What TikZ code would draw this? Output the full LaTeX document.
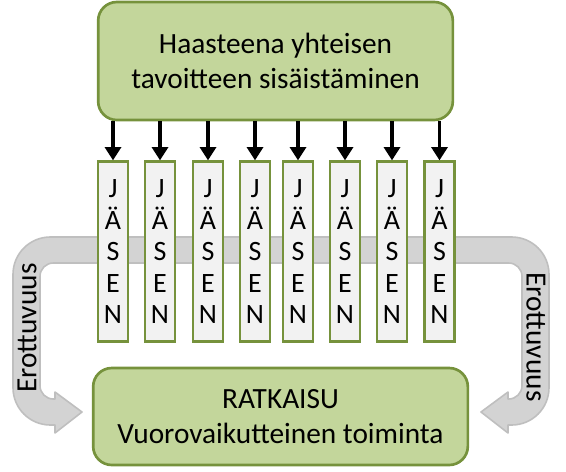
\documentclass[tikz,border=0pt]{standalone}
\usepackage{fontspec}
\setmainfont{Carlito}
\usepackage{tikz}
\usetikzlibrary{calc,positioning,arrows.meta,shapes}
\tikzset{>={Triangle[width=12pt,length=10pt]}}
\definecolor{boxgreen}{HTML}{C3D69B}
\definecolor{linegreen}{HTML}{76923C}
\definecolor{memgray}{HTML}{F2F2F2}
\definecolor{bandgray}{HTML}{D3D3D3}
\definecolor{bandline}{HTML}{BFBFBF}

\begin{document}
\begin{tikzpicture}[x=0.75pt,y=-0.75pt,
  bigbox/.style={draw=linegreen,fill=boxgreen,line width=2pt,rounded corners=14pt,align=center,font=\fontsize{22}{26.25}\selectfont},
  mem/.style={draw=linegreen,fill=memgray,line width=2pt,minimum width=22.5pt,minimum height=135pt,inner sep=0pt,align=center,font=\fontsize{21}{23.7}\selectfont},
  band/.style={draw=bandline,fill=bandgray,line width=1.2pt,line join=round}]
              \useasboundingbox (0,0) rectangle (566,471);

              % harmaa nuoli taustalle
              \draw[band] (55,425) [rounded corners=28pt] -- (13,425) -- (13,237) -- (549,237) -- (549,425) [sharp corners] -- (508,425)
                    -- (508,433) -- (481,412) -- (508,392) -- (508,399) [rounded corners=10pt] -- (522,399) -- (522,263)
                    -- (40,263) -- (40,399) [sharp corners] -- (55,399) -- (55,392) -- (82,412) -- (55,433) -- cycle;
              \node[rotate=90,font=\fontsize{22}{26}\selectfont] (ero1) at (27,328) {Erottuvuus};
              \node[rotate=-90,font=\fontsize{22}{26}\selectfont] (ero2) at (536,337) {Erottuvuus};

              \node[bigbox,minimum width=266pt,minimum height=88.5pt] (goal) at (275.5,61) {Haasteena yhteisen\\tavoitteen sisäistäminen};
              \node[bigbox,minimum width=281pt,minimum height=72.75pt] (sol) at (280.5,416.5) {RATKAISU\\Vuorovaikutteinen toiminta};

              \node[mem] (m1) at (113,251.7) {J\\Ä\\S\\E\\N};
              \node[mem] (m2) at (160,251.7) {J\\Ä\\S\\E\\N};
              \node[mem] (m3) at (208,251.7) {J\\Ä\\S\\E\\N};
              \node[mem] (m4) at (255,251.7) {J\\Ä\\S\\E\\N};
              \node[mem] (m5) at (298,251.7) {J\\Ä\\S\\E\\N};
              \node[mem] (m6) at (345,251.7) {J\\Ä\\S\\E\\N};
              \node[mem] (m7) at (392,251.7) {J\\Ä\\S\\E\\N};
              \node[mem] (m8) at (439.5,251.7) {J\\Ä\\S\\E\\N};

              \draw[->,line width=2.6pt] (goal.south -| m1.north) -- (m1.north);
              \draw[->,line width=2.6pt] (goal.south -| m2.north) -- (m2.north);
              \draw[->,line width=2.6pt] (goal.south -| m3.north) -- (m3.north);
              \draw[->,line width=2.6pt] (goal.south -| m4.north) -- (m4.north);
              \draw[->,line width=2.6pt] (goal.south -| m5.north) -- (m5.north);
              \draw[->,line width=2.6pt] (goal.south -| m6.north) -- (m6.north);
              \draw[->,line width=2.6pt] (goal.south -| m7.north) -- (m7.north);
              \draw[->,line width=2.6pt] (goal.south -| m8.north) -- (m8.north);
\end{tikzpicture}
\end{document}
